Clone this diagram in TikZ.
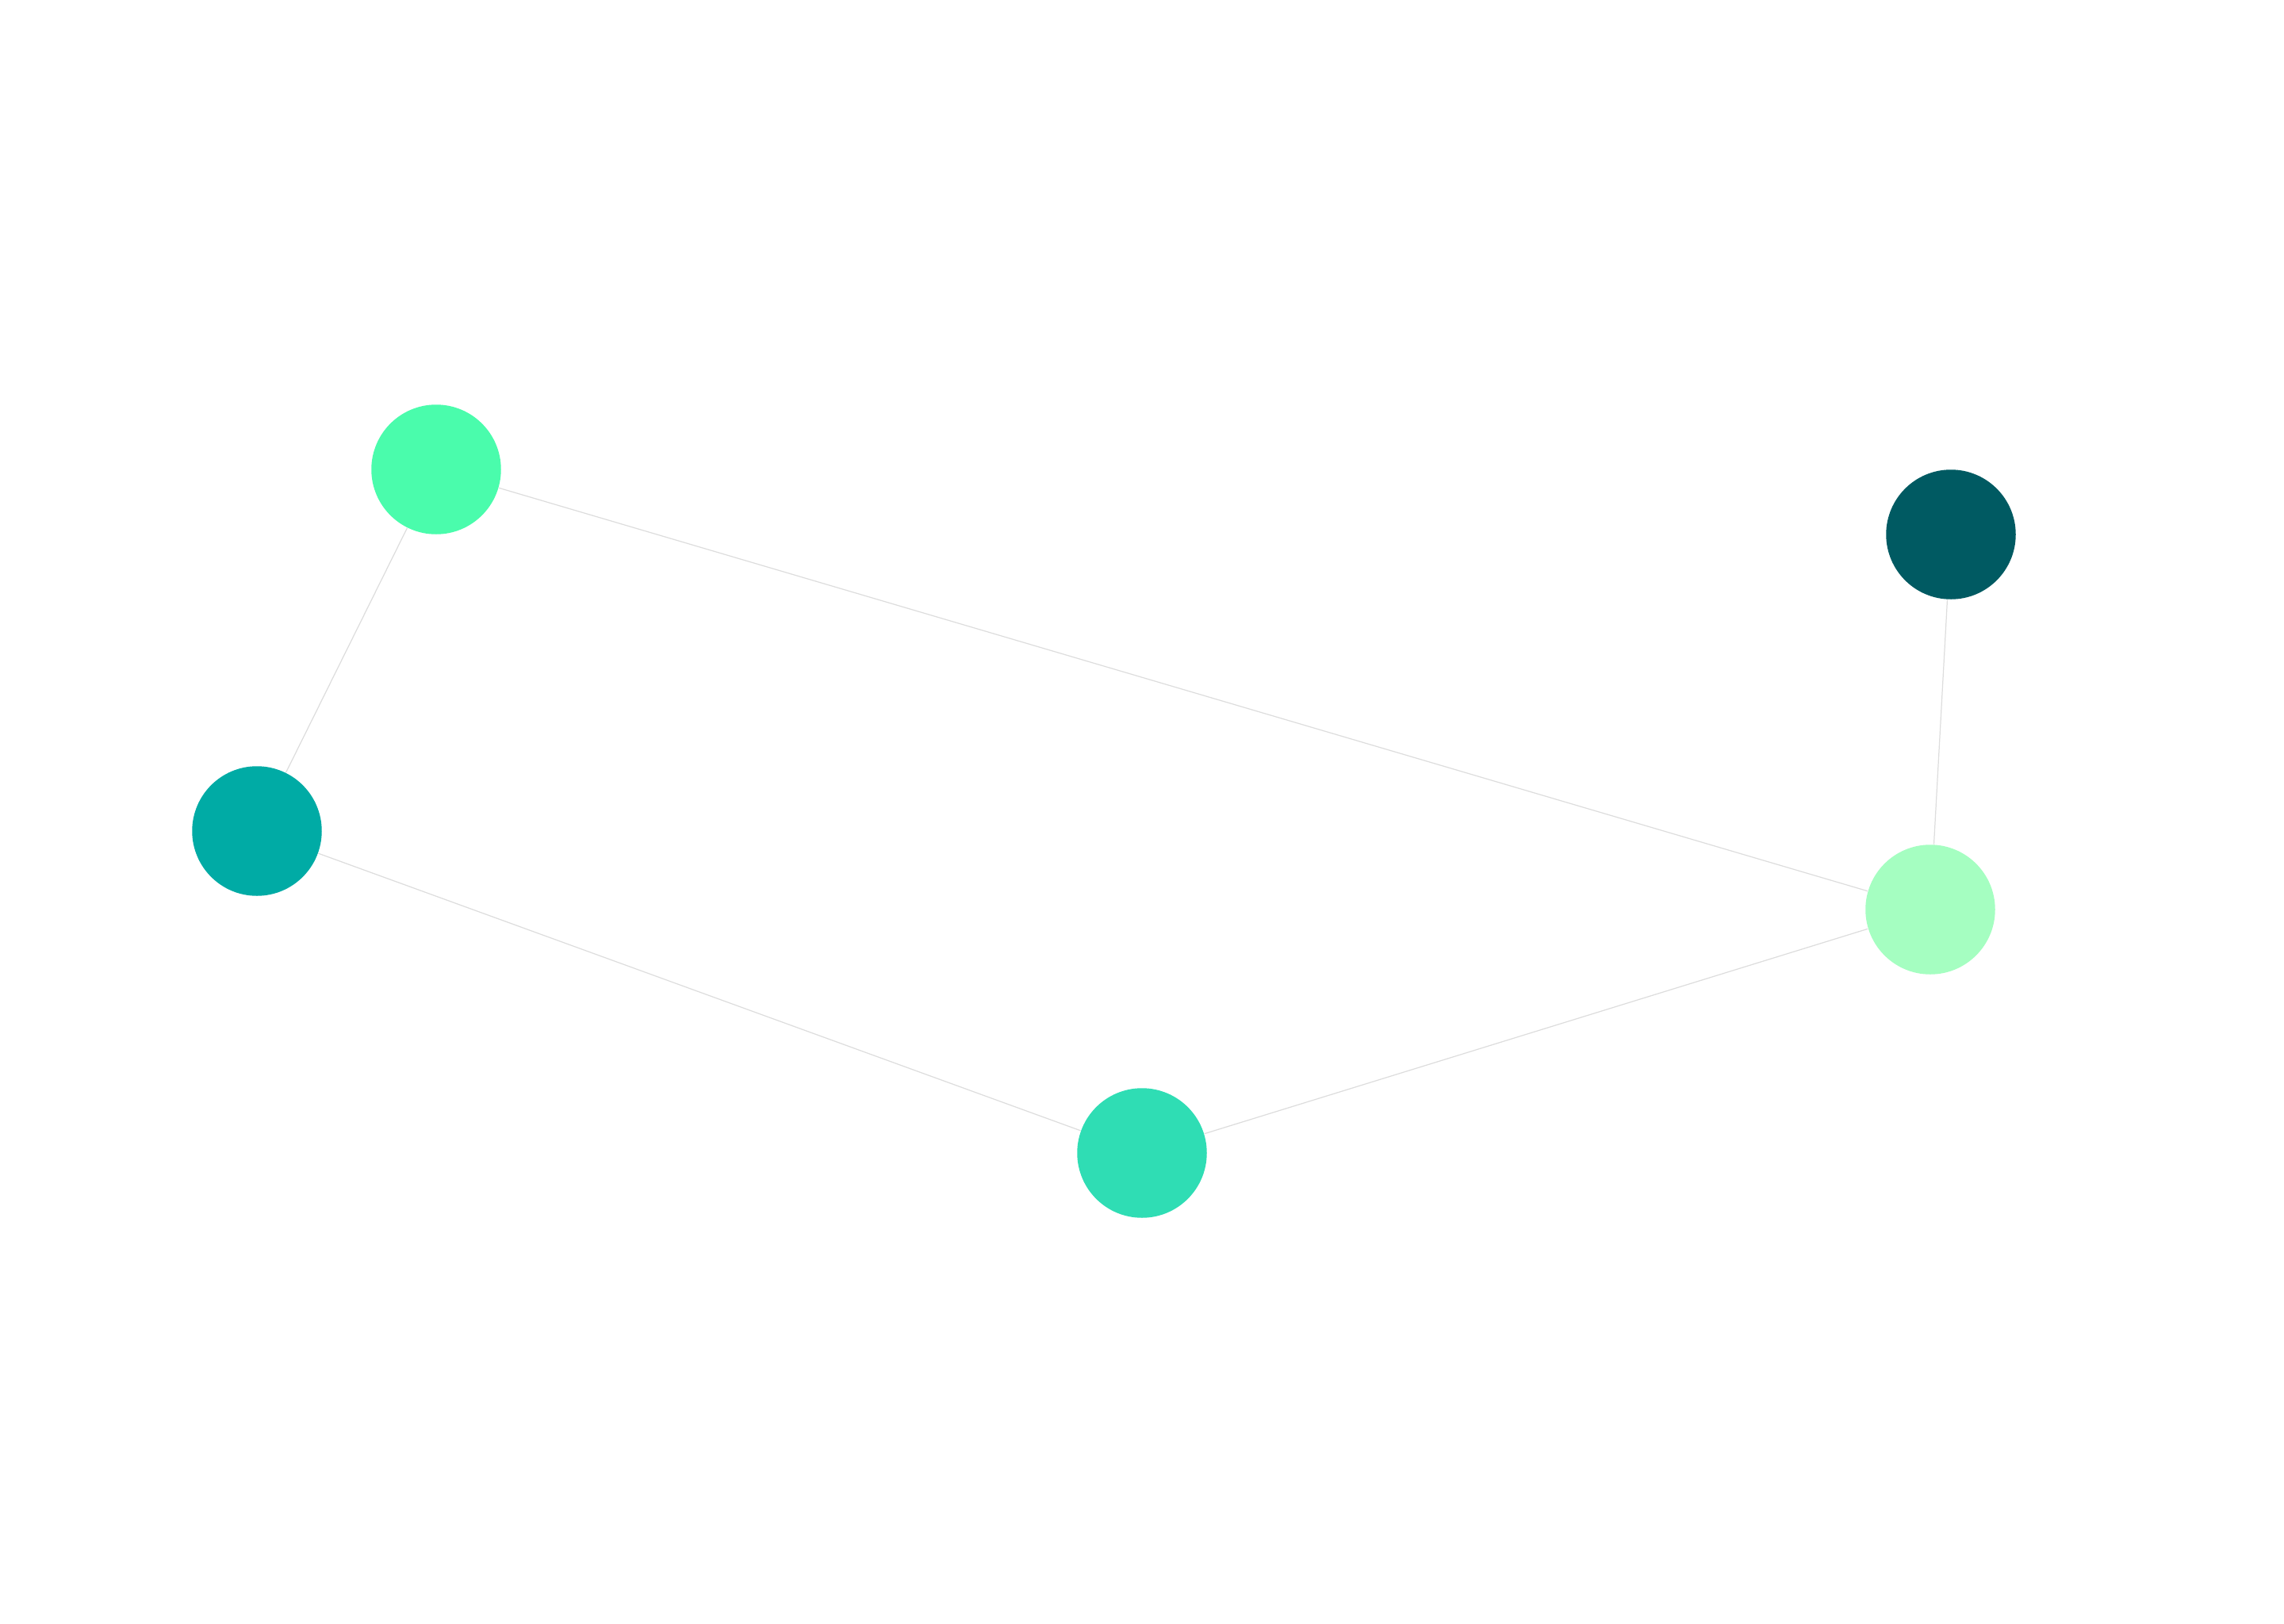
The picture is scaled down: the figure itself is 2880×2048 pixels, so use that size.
\documentclass[tikz,border=0pt]{standalone}
\definecolor{cA}{HTML}{4AFCAC}
\definecolor{cB}{HTML}{00ABA5}
\definecolor{cC}{HTML}{2FDDB4}
\definecolor{cD}{HTML}{A5FEC1}
\definecolor{cE}{HTML}{005A62}
\definecolor{edgegray}{HTML}{DDDDDD}
\begin{document}
\begin{tikzpicture}[x=0.01cm,y=-0.01cm,
  vertex/.style={circle,inner sep=0pt,minimum size=1.634cm,draw=none},
  link/.style={draw=edgegray,line width=0.35pt}]
\useasboundingbox (0,0) rectangle (2880,2048);
\node[vertex,fill=cA] (A) at (550,592) {};
\node[vertex,fill=cB] (B) at (324,1048) {};
\node[vertex,fill=cC] (C) at (1440,1454) {};
\node[vertex,fill=cD] (D) at (2434,1147) {};
\node[vertex,fill=cE] (E) at (2460,674) {};
\draw[link] (A) -- (B);
\draw[link] (A) -- (D);
\draw[link] (B) -- (C);
\draw[link] (C) -- (D);
\draw[link] (D) -- (E);
\end{tikzpicture}
\end{document}
